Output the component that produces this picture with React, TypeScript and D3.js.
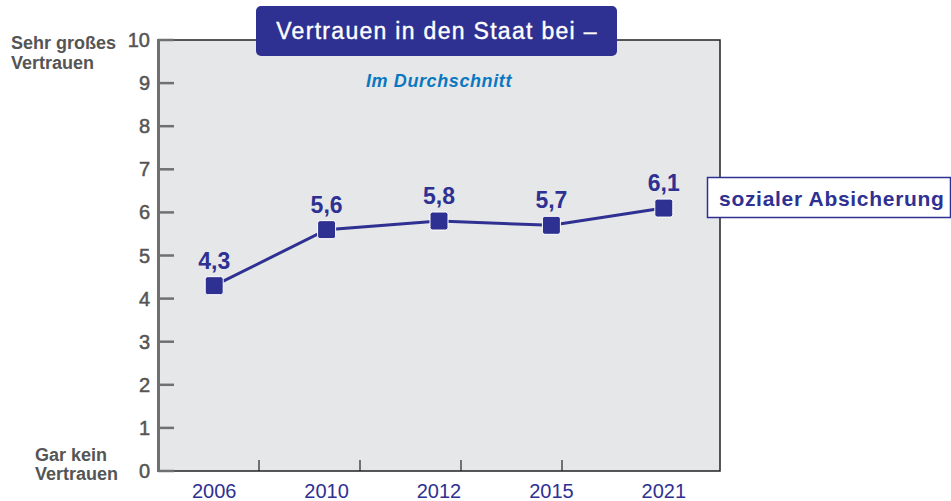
import * as d3 from "d3";
import React, { useEffect, useRef } from "react";

const years = ["2006", "2010", "2012", "2015", "2021"];
const values = [4.3, 5.6, 5.8, 5.7, 6.1];
const yTicks = [0, 1, 2, 3, 4, 5, 6, 7, 8, 9, 10];
const separators = [1, 2, 3, 4];
const title = "Vertrauen in den Staat bei –";
const subtitle = "Im Durchschnitt";
const seriesName = "sozialer Absicherung";

const BLUE = "#2e3192";
const FONT = "'Liberation Sans', Arial, sans-serif";

const App = () => {
  const svgRef = useRef<SVGSVGElement>(null);

  useEffect(() => {
    const W = 951;
    const H = 501;
    const left = 158;
    const right = 720;
    const top = 40;
    const bottom = 471;

    const svg = d3.select(svgRef.current).attr("width", W).attr("height", H);
    svg.selectAll("*").remove();

    const x = d3.scaleBand().domain(years).range([left, right]);
    const y = d3.scaleLinear().domain([0, 10]).range([bottom, top]);
    // separator ticks along the bottom run on their own even spacing
    const sep = d3.scaleLinear().domain([0, 1]).range([left, left + 101]);

    // plot background
    svg
      .append("rect")
      .attr("x", left)
      .attr("y", top)
      .attr("width", right - left)
      .attr("height", bottom - top)
      .attr("fill", "#e6e7e9");

    // top / right / bottom borders
    svg
      .append("path")
      .attr("d", `M${left + 15},${top}H${right}V${bottom}H${left + 15}`)
      .attr("fill", "none")
      .attr("stroke", "#222")
      .attr("stroke-width", 1.5);

    // separator ticks
    svg
      .selectAll(".sep")
      .data(separators)
      .join("line")
      .attr("x1", (d) => sep(d))
      .attr("x2", (d) => sep(d))
      .attr("y1", bottom)
      .attr("y2", bottom - 11)
      .attr("stroke", "#222")
      .attr("stroke-width", 1.2);

    // y axis
    svg
      .append("line")
      .attr("x1", left + 0.5)
      .attr("x2", left + 0.5)
      .attr("y1", top - 1)
      .attr("y2", bottom + 1)
      .attr("stroke", "#707070")
      .attr("stroke-width", 3);

    svg
      .selectAll(".ytick")
      .data(yTicks)
      .join("line")
      .attr("x1", left)
      .attr("x2", left + 16)
      .attr("y1", (d) => y(d))
      .attr("y2", (d) => y(d))
      .attr("stroke", "#707070")
      .attr("stroke-width", 2.5);

    svg
      .selectAll(".ylab")
      .data(yTicks)
      .join("text")
      .attr("x", left - 8)
      .attr("y", (d) => y(d) + 7)
      .attr("text-anchor", "end")
      .attr("font-family", FONT)
      .attr("font-size", 20)
      .attr("fill", "#555")
      .attr("stroke", "#555")
      .attr("stroke-width", 0.5)
      .text((d) => d);

    const axisText = (t: string, xx: number, yy: number) =>
      svg
        .append("text")
        .attr("x", xx)
        .attr("y", yy)
        .attr("font-family", FONT)
        .attr("font-size", 18)
        .attr("font-weight", "bold")
        .attr("fill", "#555")
        .text(t);
    axisText("Sehr großes", 11, 49);
    axisText("Vertrauen", 11, 69);
    axisText("Gar kein", 35, 461);
    axisText("Vertrauen", 35, 480);

    // x labels
    svg
      .selectAll(".xlab")
      .data(years)
      .join("text")
      .attr("x", (d) => x(d)! + x.bandwidth() / 2)
      .attr("y", 498)
      .attr("text-anchor", "middle")
      .attr("font-family", FONT)
      .attr("font-size", 20)
      .attr("fill", BLUE)
      .text((d) => d);

    // line
    const pts = years.map((yr, i) => ({ yr, v: values[i] }));
    const line = d3
      .line<{ yr: string; v: number }>()
      .x((d) => x(d.yr)! + x.bandwidth() / 2)
      .y((d) => y(d.v));

    svg
      .append("path")
      .datum(pts)
      .attr("d", line)
      .attr("fill", "none")
      .attr("stroke", BLUE)
      .attr("stroke-width", 3);

    svg
      .selectAll(".mk")
      .data(pts)
      .join("rect")
      .attr("x", (d) => x(d.yr)! + x.bandwidth() / 2 - 9)
      .attr("y", (d) => y(d.v) - 9)
      .attr("width", 18)
      .attr("height", 18)
      .attr("rx", 2.5)
      .attr("fill", BLUE)
      .attr("stroke", "#fff")
      .attr("stroke-width", 1);

    svg
      .selectAll(".val")
      .data(pts)
      .join("text")
      .attr("x", (d) => x(d.yr)! + x.bandwidth() / 2)
      .attr("y", (d) => y(d.v) - 17)
      .attr("text-anchor", "middle")
      .attr("font-family", FONT)
      .attr("font-size", 23)
      .attr("font-weight", "bold")
      .attr("fill", BLUE)
      .text((d) => String(d.v).replace(".", ","));

    // title box
    svg
      .append("rect")
      .attr("x", 256)
      .attr("y", 6)
      .attr("width", 361)
      .attr("height", 50)
      .attr("rx", 5)
      .attr("fill", BLUE);
    svg
      .append("text")
      .attr("x", 437)
      .attr("y", 39)
      .attr("text-anchor", "middle")
      .attr("font-family", FONT)
      .attr("font-size", 23)
      .attr("letter-spacing", 1.3)
      .attr("fill", "#fff")
      .attr("stroke", "#fff")
      .attr("stroke-width", 0.4)
      .text(title);

    svg
      .append("text")
      .attr("x", 439)
      .attr("y", 87)
      .attr("text-anchor", "middle")
      .attr("font-family", FONT)
      .attr("font-size", 18)
      .attr("letter-spacing", 0.6)
      .attr("font-style", "italic")
      .attr("font-weight", "bold")
      .attr("fill", "#0a78c0")
      .text(subtitle);

    // series label box
    svg
      .append("rect")
      .attr("x", 707.5)
      .attr("y", 177.5)
      .attr("width", 243)
      .attr("height", 40)
      .attr("fill", "#fff")
      .attr("stroke", BLUE)
      .attr("stroke-width", 1.5);
    svg
      .append("text")
      .attr("x", 719)
      .attr("y", 206)
      .attr("font-family", FONT)
      .attr("font-size", 21)
      .attr("letter-spacing", 0.7)
      .attr("font-weight", "bold")
      .attr("fill", BLUE)
      .text(seriesName);
  }, []);

  return (
    <div style={{ position: "absolute", left: 0, top: 0 }}>
      <svg ref={svgRef} style={{ display: "block" }}></svg>
    </div>
  );
};

export default App;
